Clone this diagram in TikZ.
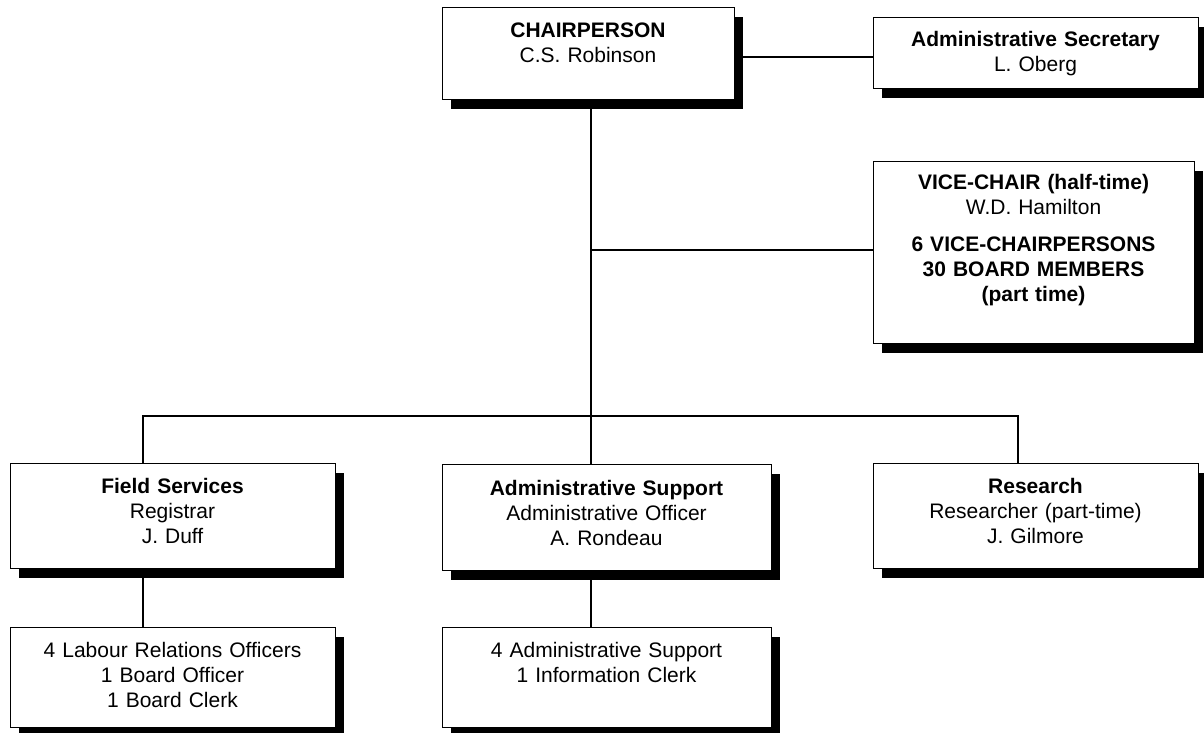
\documentclass[tikz,border=0pt]{standalone}
\usepackage{fontspec}
\setmainfont{Liberation Sans}
\usetikzlibrary{shadows}
\tikzset{
  box/.style={draw, line width=1.3pt, fill=white, inner sep=0pt, anchor=north west,
    drop shadow={shadow xshift=8pt, shadow yshift=-9pt, fill=black, opacity=1}},
  txt/.style={font=\fontsize{21}{25}\selectfont, text width=#1, align=center, anchor=base, inner sep=0pt},
  conn/.style={line width=1.6pt}
}
\begin{document}
\begin{tikzpicture}[x=1pt,y=-1pt]
\useasboundingbox (0,0) rectangle (1204,732);
% boxes
\node[box, minimum width=292pt, minimum height=92pt] (chair) at (442,7) {};
\node[box, minimum width=325pt, minimum height=71pt] (sec) at (873,17) {};
\node[box, minimum width=321pt, minimum height=182pt] (vc) at (873,161) {};
\node[box, minimum width=325pt, minimum height=105pt] (fs) at (10,463) {};
\node[box, minimum width=329pt, minimum height=106pt] (as) at (442,464) {};
\node[box, minimum width=325pt, minimum height=105pt] (res) at (873,463) {};
\node[box, minimum width=325pt, minimum height=100pt] (fsl) at (10,627) {};
\node[box, minimum width=329pt, minimum height=100pt] (asl) at (442,627) {};
% texts
\node[txt=290pt] (chairT) at (588,37) {\textbf{CHAIRPERSON}\\C.S. Robinson};
\node[txt=320pt] (secT) at (1035.5,46) {\textbf{Administrative Secretary}\\L. Oberg};
\node[txt=320pt] (vcT) at (1033.5,189) {\textbf{VICE-CHAIR (half-time)}\\W.D. Hamilton\\[12pt]\textbf{6 VICE-CHAIRPERSONS}\\\textbf{30 BOARD MEMBERS}\\\textbf{(part time)}};
\node[txt=320pt] (fsT) at (172.5,493) {\textbf{Field Services}\\Registrar\\J. Duff};
\node[txt=320pt] (asT) at (606.5,495) {\textbf{Administrative Support}\\Administrative Officer\\A. Rondeau};
\node[txt=320pt] (resT) at (1035.5,493) {\textbf{Research}\\Researcher (part-time)\\J. Gilmore};
\node[txt=320pt] (fslT) at (172.5,657) {4 Labour Relations Officers\\1 Board Officer\\1 Board Clerk};
\node[txt=320pt] (aslT) at (606.5,657) {4 Administrative Support\\1 Information Clerk};
% junction coordinates
\coordinate (trunk) at (591,0);
\coordinate (fsx) at (143,0);
\coordinate (resx) at (1018,0);
\coordinate (secy) at (0,57);
\coordinate (vcy) at (0,250);
\coordinate (bus) at (0,416);
% connectors
\draw[conn] (chair.east |- secy) -- (sec.west |- secy);
\draw[conn] (chair.south -| trunk) -- (as.north -| trunk);
\draw[conn] (trunk |- vcy) -- (vc.west |- vcy);
\draw[conn] (fs.north -| fsx) -- (fsx |- bus) -- (resx |- bus) -- (res.north -| resx);
\draw[conn] (fs.south -| fsx) -- (fsl.north -| fsx);
\draw[conn] (as.south -| trunk) -- (asl.north -| trunk);
\end{tikzpicture}
\end{document}
